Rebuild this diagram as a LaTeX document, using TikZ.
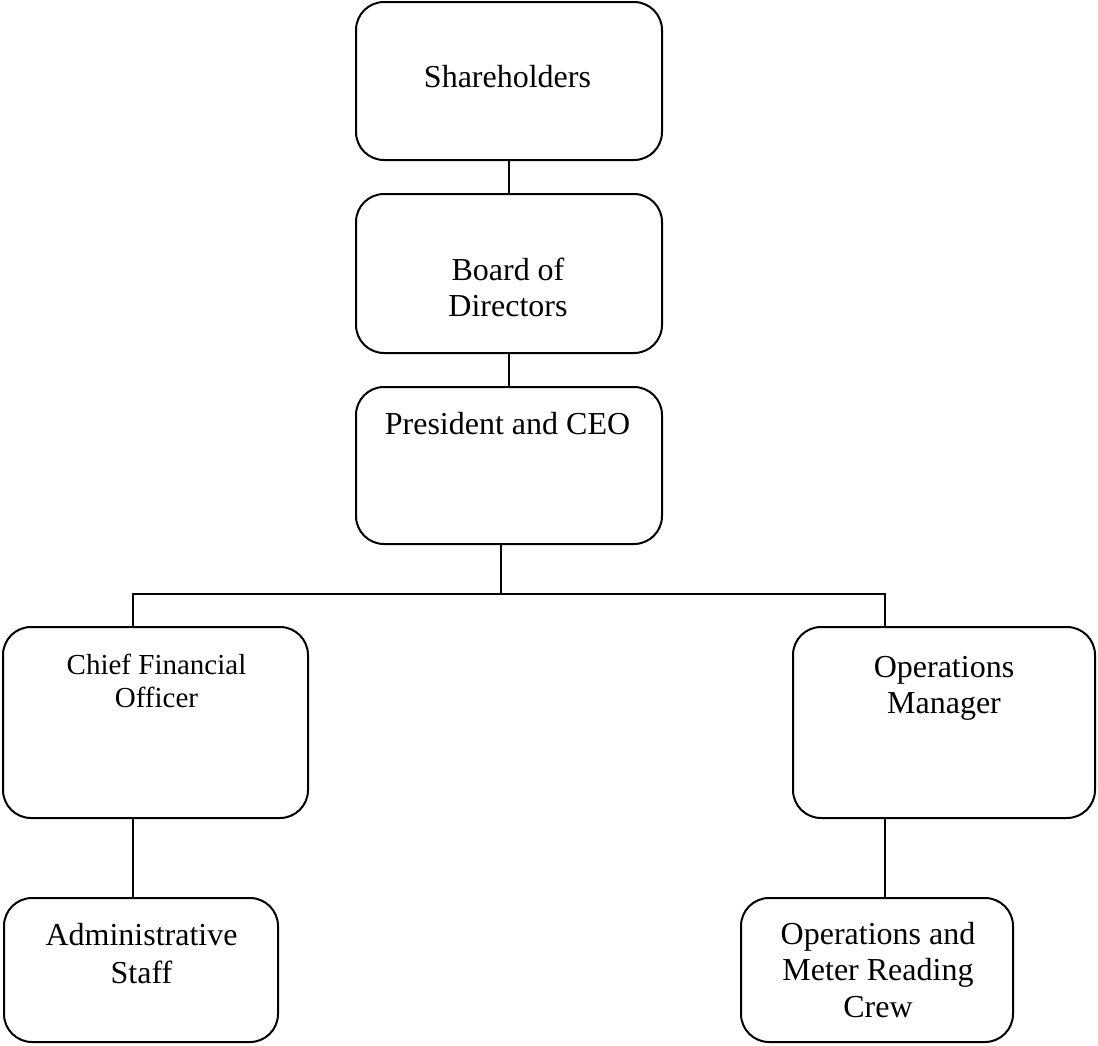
\documentclass[tikz,border=0pt]{standalone}
\usepackage{fontspec}
\setmainfont{Liberation Serif}
\begin{document}
\begin{tikzpicture}[x=0.5pt,y=-0.5pt,
  box/.style={draw, line width=1pt, rounded corners=14pt, inner sep=0pt},
  wire/.style={draw, line width=1pt},
  lbl/.style={inner sep=0pt, align=center, anchor=base},
  big/.style={font=\fontsize{16}{18}\selectfont},
  small/.style={font=\fontsize{14.5}{16.5}\selectfont}]
\useasboundingbox (0,0) rectangle (1098,1045);

% boxes
\node[box, minimum width=153pt, minimum height=79pt]   (sh)    at (509,81)    {};
\node[box, minimum width=153pt, minimum height=79.5pt] (board) at (509,273.5) {};
\node[box, minimum width=153pt, minimum height=78.5pt] (ceo)   at (509,465.5) {};
\node[box, minimum width=152.5pt, minimum height=95.5pt] (cfo) at (155.5,722.5) {};
\node[box, minimum width=151pt, minimum height=95.5pt] (om)    at (944,722.5) {};
\node[box, minimum width=137pt, minimum height=72pt]   (admin) at (141,970)   {};
\node[box, minimum width=136pt, minimum height=72pt]   (crew)  at (877,970)   {};

% labels (base anchor sits on the last line)
\node[lbl, big]   (tsh)    at (507.5,87)  {Shareholders};
\node[lbl, big]   (tboard) at (508,316)   {Board of\\Directors};
\node[lbl, big]   (tceo)   at (507.5,434) {President and CEO};
\node[lbl, small] (tcfo)   at (156.5,707) {Chief Financial\\Officer};
\node[lbl, big]   (tom)    at (944,713)   {Operations\\Manager};
\node[lbl, font=\fontsize{16}{19}\selectfont]   (tadmin) at (141.5,983) {Administrative\\Staff};
\node[lbl, font=\fontsize{16}{18.25}\selectfont] (tcrew)  at (878,1017) {Operations and\\Meter Reading\\Crew};

% connectors
\draw[wire] (sh) -- (board);
\draw[wire] (board) -- (ceo);
\coordinate (bus) at (501,594);
\coordinate (ceoout) at ([xshift=-4pt]ceo.south);
\coordinate (cfoin) at ([xshift=-11.25pt]cfo.north);
\coordinate (omin) at ([xshift=-29.5pt]om.north);
\coordinate (cfoout) at ([xshift=-11.25pt]cfo.south);
\coordinate (omout) at ([xshift=-29.5pt]om.south);
\draw[wire] (ceoout) -- (bus);
\draw[wire] (bus) -| (cfoin);
\draw[wire] (bus) -| (omin);
\draw[wire] (cfoout) -- (cfoout |- admin.north);
\draw[wire] (omout) -- (omout |- crew.north);
\end{tikzpicture}
\end{document}
